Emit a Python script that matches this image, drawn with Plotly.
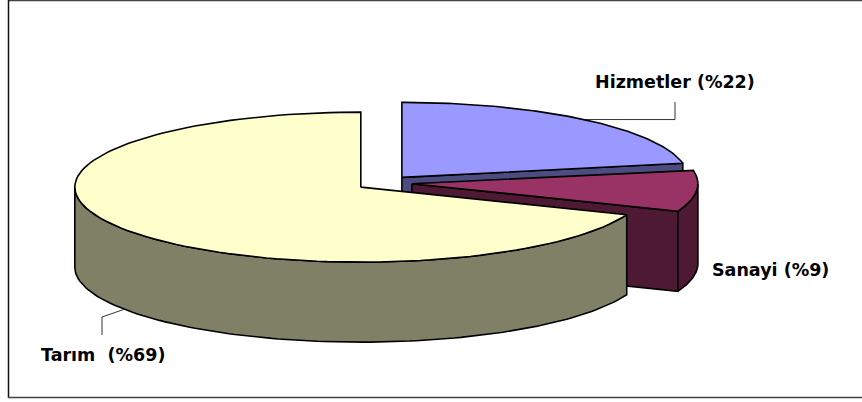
import numpy as np
import plotly.graph_objects as go

# ---- data ----
names = ["Hizmetler", "Sanayi", "Tarım"]
values = [22, 9, 69]
labels = ["Hizmetler (%22)", "Sanayi (%9)", "Tarım\u00a0 (%69)"]
top_colors = ["#9999FF", "#993366", "#FFFFCC"]
side_colors = ["#4C4C80", "#4D1933", "#808066"]

# ---- geometry (pixel-space axes) ----
W, H = 862, 402
CX, CY, RX, RY, DEPTH, EXPLODE = 384, 183, 286, 75, 80, 0.098

fig = go.Figure()


def arc(cx, cy, a0, a1, dy=0.0, n=120):
    th = np.radians(np.linspace(a0, a1, n))
    return cx + RX * np.sin(th), cy - RY * np.cos(th) + dy


def poly(xs, ys, color):
    xs = list(xs) + [xs[0]]
    ys = list(ys) + [ys[0]]
    fig.add_trace(go.Scatter(
        x=xs, y=ys, mode="lines", fill="toself", fillcolor=color,
        line=dict(color="black", width=1.6), hoverinfo="skip", showlegend=False))


total = float(sum(values))
angles = np.concatenate([[0], np.cumsum(values) / total * 360.0])
centers = []
for i, v in enumerate(values):
    a0, a1 = angles[i], angles[i + 1]
    mid = np.radians((a0 + a1) / 2)
    sx = CX + EXPLODE * RX * np.sin(mid)
    sy = CY - EXPLODE * RY * np.cos(mid)
    centers.append((sx, sy))
    eps = 1e-6
    # radial walls
    for a, vis in ((a0, np.sin(np.radians(a0)) < -eps), (a1, np.sin(np.radians(a1)) > eps)):
        if vis:
            px, py = arc(sx, sy, a, a, n=1)
            poly([sx, px[0], px[0], sx], [sy, py[0], py[0] + DEPTH, sy + DEPTH], side_colors[i])
    # outer curved wall (front facing part)
    f0, f1 = max(a0, 90.0), min(a1, 270.0)
    if f1 > f0:
        tx, ty = arc(sx, sy, f0, f1)
        bx, by = arc(sx, sy, f0, f1, dy=DEPTH)
        poly(np.concatenate([tx, bx[::-1]]), np.concatenate([ty, by[::-1]]), side_colors[i])
    # top face
    tx, ty = arc(sx, sy, a0, a1)
    poly(np.concatenate([[sx], tx]), np.concatenate([[sy], ty]), top_colors[i])

# ---- leader lines ----
mids = [(angles[i] + angles[i + 1]) / 2 for i in range(len(values))]
hx, hy = arc(*centers[0], mids[0], mids[0], n=1)
fig.add_trace(go.Scatter(x=[hx[0], 675, 675], y=[hy[0], hy[0], 102], mode="lines",
                         line=dict(color="black", width=0.8), hoverinfo="skip", showlegend=False))
tx_, ty_ = arc(*centers[2], mids[2], mids[2], dy=DEPTH, n=1)
fig.add_trace(go.Scatter(x=[tx_[0], 102, 102], y=[ty_[0], 317, 335], mode="lines",
                         line=dict(color="black", width=0.8), hoverinfo="skip", showlegend=False))

# ---- labels ----
label_pos = [(675, 82), (770, 270), (103, 355)]
for lab, (lx, ly) in zip(labels, label_pos):
    fig.add_annotation(x=lx, y=ly, xref="x", yref="y", text="<b>" + lab + "</b>",
                       showarrow=False, font=dict(family="DejaVu Sans", size=17.5, color="black"))

# ---- chart border ----
for x0, y0, x1, y1, c in ((8, 0.5, 862, 0.5, "#444"), (8.5, 0, 8.5, 398, "#111"), (8, 397.5, 862, 397.5, "#444")):
    fig.add_shape(type="line", xref="x", yref="y", x0=x0, y0=y0, x1=x1, y1=y1,
                  line=dict(color=c, width=1.5))

fig.update_layout(
    width=W, height=H, margin=dict(l=0, r=0, t=0, b=0),
    paper_bgcolor="white", plot_bgcolor="white",
    xaxis=dict(range=[0, W], visible=False, fixedrange=True),
    yaxis=dict(range=[H, 0], visible=False, fixedrange=True),
)
fig.write_html("out.html", config={"displayModeBar": False},
               post_script="document.body.style.margin='0';document.body.style.overflow='hidden';")
